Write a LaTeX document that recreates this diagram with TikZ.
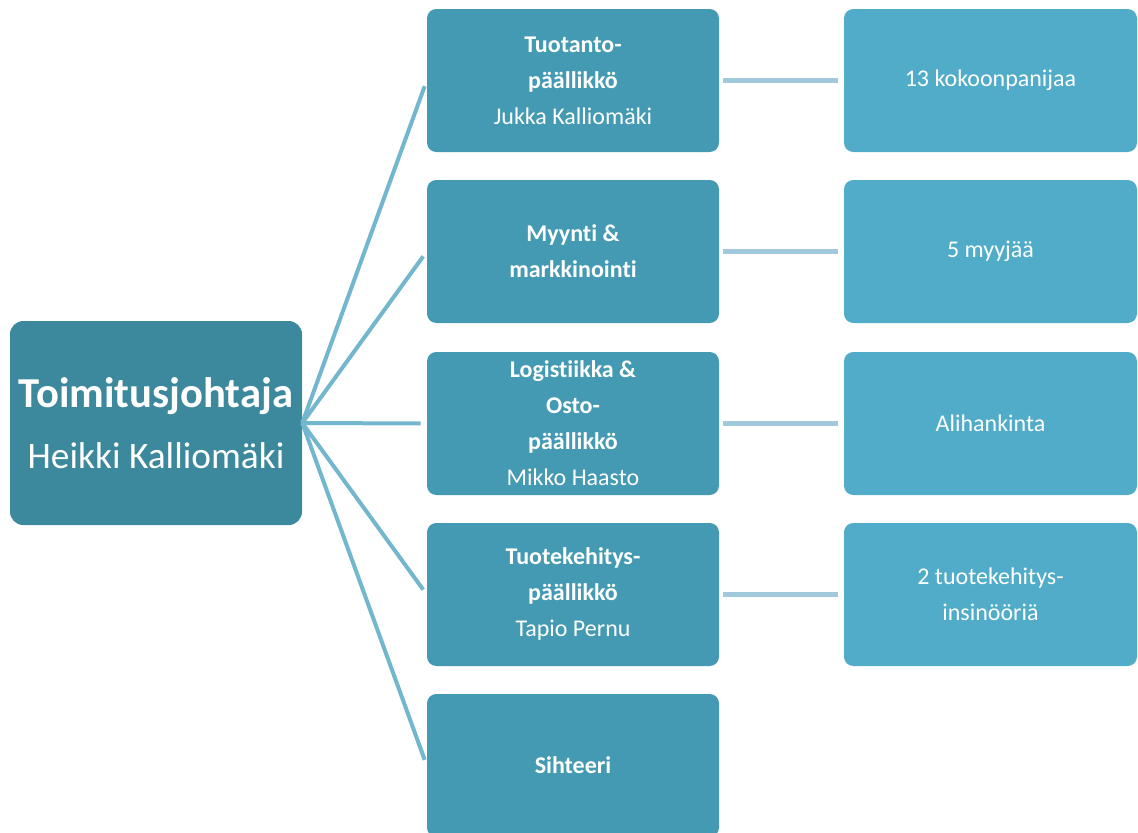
\documentclass[tikz,border=0pt]{standalone}
\usepackage{fontspec}
\setmainfont[Ligatures=NoCommon]{Carlito}
\definecolor{rootfill}{HTML}{3C889C}
\definecolor{midfill}{HTML}{439AB2}
\definecolor{leaffill}{HTML}{50ACC8}
\definecolor{spoke}{HTML}{73B7CE}
\definecolor{link}{HTML}{A0CADB}
\tikzset{
  rootbox/.style={fill=rootfill, rounded corners=10pt, minimum width=219pt, minimum height=153pt,
    text=white, align=center, inner sep=0pt},
  midbox/.style={fill=midfill, rounded corners=7pt, minimum width=219pt, minimum height=107.25pt,
    text=white, align=center, inner sep=0pt, font=\fontsize{18pt}{27pt}\selectfont},
  leafbox/.style={fill=leaffill, rounded corners=7pt, minimum width=219.75pt, minimum height=107.25pt,
    text=white, align=center, inner sep=0pt, font=\fontsize{18pt}{27pt}\selectfont},
  spokeline/.style={draw=spoke, line width=3pt, shorten >=4.5pt},
  linkline/.style={draw=link, line width=3.75pt, shorten <=3pt, shorten >=4.5pt},
}
\begin{document}
\begin{tikzpicture}[x=0.75pt,y=-0.75pt]
\useasboundingbox (0,0) rectangle (1138,832);

% chief executive
\node[rootbox] (root) at (156,423)
  {{\fontsize{32pt}{46pt}\selectfont\bfseries Toimitusjohtaja}\\[20pt]
   {\fontsize{28pt}{46pt}\selectfont Heikki Kalliomäki}};

% department heads
\node[midbox] (m1) at (573,80.5) {\textbf{Tuotanto-}\\\textbf{päällikkö}\\Jukka Kalliomäki};
\node[midbox] (m2) at (573,251.5) {\textbf{Myynti \&}\\\textbf{markkinointi}};
\node[midbox] (m3) at (573,423.5) {\textbf{Logistiikka \&}\\\textbf{Osto-}\\\textbf{päällikkö}\\Mikko Haasto};
\node[midbox] (m4) at (573,594.5) {\textbf{Tuotekehitys-}\\\textbf{päällikkö}\\Tapio Pernu};
\node[midbox] (m5) at (573,765.5) {\textbf{Sihteeri}};

% teams
\node[leafbox] (l1) at (990.5,80.5) {13 kokoonpanijaa};
\node[leafbox] (l2) at (990.5,251.5) {5 myyjää};
\node[leafbox] (l3) at (990.5,423.5) {Alihankinta};
\node[leafbox] (l4) at (990.5,594.5) {2 tuotekehitys-\\insinööriä};

% spokes from the chief executive
\foreach \m in {m1,m2,m3,m4,m5}
  \draw[spokeline] (root.east) -- (\m.west);

% links from heads to teams
\foreach \i in {1,2,3,4}
  \draw[linkline] (m\i.east) -- (l\i.west);
\end{tikzpicture}
\end{document}
